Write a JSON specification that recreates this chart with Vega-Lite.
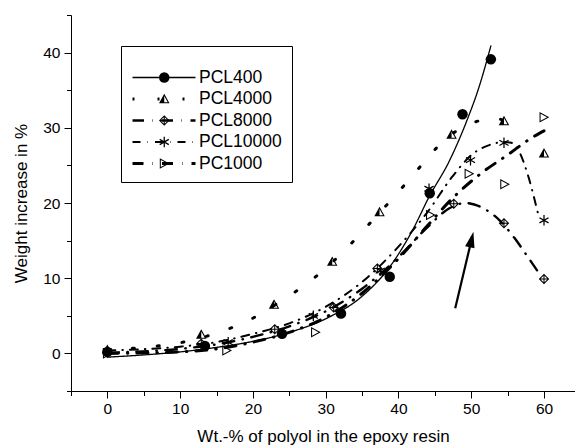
{
  "$schema": "https://vega.github.io/schema/vega-lite/v6.json",
  "width": 504,
  "height": 376,
  "autosize": {"type": "none"},
  "padding": {"left": 71, "top": 15, "right": 0, "bottom": 55},
  "background": "white",
  "config": {
    "font": "Liberation Sans",
    "view": {"stroke": null},
    "axis": {"grid": false, "domainColor": "black", "tickColor": "black", "labelColor": "black", "titleColor": "black", "titleFontWeight": "normal", "labelFontSize": 15.5, "titleFontSize": 17, "domainWidth": 1, "tickWidth": 1, "labelFont": "Liberation Sans", "titleFont": "Liberation Sans"},
    "legend": {"labelFont": "Liberation Sans", "titleFont": "Liberation Sans", "labelColor": "black"}
  },
  "datasets": {
    "points": [
      {"sample": "PCL400", "wt": 0, "gain": 0.2}, {"sample": "PCL400", "wt": 13.4, "gain": 1.0}, {"sample": "PCL400", "wt": 24, "gain": 2.6}, {"sample": "PCL400", "wt": 32.1, "gain": 5.3}, {"sample": "PCL400", "wt": 38.8, "gain": 10.2}, {"sample": "PCL400", "wt": 44.3, "gain": 21.3}, {"sample": "PCL400", "wt": 48.8, "gain": 31.8}, {"sample": "PCL400", "wt": 52.7, "gain": 39.1},
      {"sample": "PCL4000", "wt": 0, "gain": 0.5}, {"sample": "PCL4000", "wt": 12.9, "gain": 2.5}, {"sample": "PCL4000", "wt": 22.9, "gain": 6.5}, {"sample": "PCL4000", "wt": 30.9, "gain": 12.2}, {"sample": "PCL4000", "wt": 37.4, "gain": 18.8}, {"sample": "PCL4000", "wt": 47.3, "gain": 29.1}, {"sample": "PCL4000", "wt": 54.5, "gain": 30.9}, {"sample": "PCL4000", "wt": 60, "gain": 26.6},
      {"sample": "PCL8000", "wt": 0, "gain": 0.1}, {"sample": "PCL8000", "wt": 12.9, "gain": 1.3}, {"sample": "PCL8000", "wt": 23, "gain": 3.2}, {"sample": "PCL8000", "wt": 31.1, "gain": 6.1}, {"sample": "PCL8000", "wt": 37.1, "gain": 11.3}, {"sample": "PCL8000", "wt": 47.6, "gain": 19.9}, {"sample": "PCL8000", "wt": 54.5, "gain": 17.3}, {"sample": "PCL8000", "wt": 60, "gain": 9.9},
      {"sample": "PCL10000", "wt": 0, "gain": 0.3}, {"sample": "PCL10000", "wt": 16.6, "gain": 1.5}, {"sample": "PCL10000", "wt": 28.3, "gain": 5.0}, {"sample": "PCL10000", "wt": 37.5, "gain": 11.0}, {"sample": "PCL10000", "wt": 44.2, "gain": 21.9}, {"sample": "PCL10000", "wt": 49.9, "gain": 25.7}, {"sample": "PCL10000", "wt": 54.5, "gain": 28.0}, {"sample": "PCL10000", "wt": 60, "gain": 17.7},
      {"sample": "PC1000", "wt": 0, "gain": 0.0}, {"sample": "PC1000", "wt": 16.4, "gain": 0.4}, {"sample": "PC1000", "wt": 28.6, "gain": 2.8}, {"sample": "PC1000", "wt": 44.4, "gain": 18.4}, {"sample": "PC1000", "wt": 49.7, "gain": 23.9}, {"sample": "PC1000", "wt": 54.6, "gain": 22.5}, {"sample": "PC1000", "wt": 60, "gain": 31.4}
    ],
    "fits": [
      {"fit": "PCL400", "wt": 0, "gain": -0.5}, {"fit": "PCL400", "wt": 5, "gain": -0.2}, {"fit": "PCL400", "wt": 10, "gain": 0.2}, {"fit": "PCL400", "wt": 15, "gain": 0.8}, {"fit": "PCL400", "wt": 20, "gain": 1.6}, {"fit": "PCL400", "wt": 25, "gain": 2.8}, {"fit": "PCL400", "wt": 30, "gain": 4.6}, {"fit": "PCL400", "wt": 35, "gain": 7.6}, {"fit": "PCL400", "wt": 38.8, "gain": 11.5}, {"fit": "PCL400", "wt": 42, "gain": 16.5}, {"fit": "PCL400", "wt": 44.2, "gain": 20.8}, {"fit": "PCL400", "wt": 47, "gain": 25.6}, {"fit": "PCL400", "wt": 49.5, "gain": 31.2}, {"fit": "PCL400", "wt": 51, "gain": 35.2}, {"fit": "PCL400", "wt": 52.7, "gain": 40.9},
      {"fit": "PCL4000", "wt": 0, "gain": 0.5}, {"fit": "PCL4000", "wt": 5, "gain": 0.8}, {"fit": "PCL4000", "wt": 10.9, "gain": 1.6}, {"fit": "PCL4000", "wt": 16.2, "gain": 3.1}, {"fit": "PCL4000", "wt": 19, "gain": 4.2}, {"fit": "PCL4000", "wt": 24.4, "gain": 7.3}, {"fit": "PCL4000", "wt": 27.3, "gain": 9.2}, {"fit": "PCL4000", "wt": 32.7, "gain": 13.8}, {"fit": "PCL4000", "wt": 35.3, "gain": 16.5}, {"fit": "PCL4000", "wt": 40.2, "gain": 21.7}, {"fit": "PCL4000", "wt": 42.6, "gain": 24.4}, {"fit": "PCL4000", "wt": 45.2, "gain": 27.3}, {"fit": "PCL4000", "wt": 48, "gain": 29.6}, {"fit": "PCL4000", "wt": 50.6, "gain": 30.8}, {"fit": "PCL4000", "wt": 53.4, "gain": 31.2}, {"fit": "PCL4000", "wt": 56.3, "gain": 30.0},
      {"fit": "PCL8000", "wt": 0, "gain": 0.1}, {"fit": "PCL8000", "wt": 10, "gain": 0.6}, {"fit": "PCL8000", "wt": 15, "gain": 1.2}, {"fit": "PCL8000", "wt": 20, "gain": 2.2}, {"fit": "PCL8000", "wt": 25, "gain": 3.6}, {"fit": "PCL8000", "wt": 30, "gain": 5.6}, {"fit": "PCL8000", "wt": 35, "gain": 8.6}, {"fit": "PCL8000", "wt": 40, "gain": 12.8}, {"fit": "PCL8000", "wt": 44, "gain": 16.8}, {"fit": "PCL8000", "wt": 47, "gain": 19.3}, {"fit": "PCL8000", "wt": 49.2, "gain": 20.0}, {"fit": "PCL8000", "wt": 50.4, "gain": 19.8}, {"fit": "PCL8000", "wt": 52.2, "gain": 19.0}, {"fit": "PCL8000", "wt": 54, "gain": 17.6}, {"fit": "PCL8000", "wt": 55.9, "gain": 15.4}, {"fit": "PCL8000", "wt": 57.8, "gain": 12.8}, {"fit": "PCL8000", "wt": 59.5, "gain": 10.4},
      {"fit": "PCL10000", "wt": 0, "gain": 0.4}, {"fit": "PCL10000", "wt": 10, "gain": 0.9}, {"fit": "PCL10000", "wt": 15, "gain": 1.5}, {"fit": "PCL10000", "wt": 20, "gain": 2.6}, {"fit": "PCL10000", "wt": 25, "gain": 4.0}, {"fit": "PCL10000", "wt": 30, "gain": 6.2}, {"fit": "PCL10000", "wt": 35, "gain": 9.5}, {"fit": "PCL10000", "wt": 40, "gain": 14.2}, {"fit": "PCL10000", "wt": 44, "gain": 18.8}, {"fit": "PCL10000", "wt": 47.4, "gain": 23.5}, {"fit": "PCL10000", "wt": 50.3, "gain": 26.6}, {"fit": "PCL10000", "wt": 52.2, "gain": 27.6}, {"fit": "PCL10000", "wt": 54.5, "gain": 28.1}, {"fit": "PCL10000", "wt": 55.5, "gain": 28.0}, {"fit": "PCL10000", "wt": 56.5, "gain": 27.0}, {"fit": "PCL10000", "wt": 57.7, "gain": 24.0}, {"fit": "PCL10000", "wt": 59.2, "gain": 18.5},
      {"fit": "PC1000", "wt": 0, "gain": 0.0}, {"fit": "PC1000", "wt": 10, "gain": 0.2}, {"fit": "PC1000", "wt": 15, "gain": 0.6}, {"fit": "PC1000", "wt": 20, "gain": 1.5}, {"fit": "PC1000", "wt": 25, "gain": 2.8}, {"fit": "PC1000", "wt": 30, "gain": 4.8}, {"fit": "PC1000", "wt": 35, "gain": 8.0}, {"fit": "PC1000", "wt": 40, "gain": 12.6}, {"fit": "PC1000", "wt": 44, "gain": 17.0}, {"fit": "PC1000", "wt": 47.6, "gain": 20.8}, {"fit": "PC1000", "wt": 51.3, "gain": 23.9}, {"fit": "PC1000", "wt": 55, "gain": 26.4}, {"fit": "PC1000", "wt": 58.2, "gain": 28.6}, {"fit": "PC1000", "wt": 60, "gain": 29.6}
    ],
    "arrow": [
      {"wt": 47.8, "gain": 6.0, "wt2": 50.05, "gain2": 15.15}
    ]
  },
  "resolve": {"axis": {"x": "independent", "y": "independent"}},
  "layer": [
    {
      "data": {"values": []},
      "mark": {"type": "point", "opacity": 0},
      "encoding": {
        "x": {"field": "wt", "type": "quantitative", "scale": {"domain": [-5, 64.26], "nice": false, "zero": false}, "axis": {"orient": "bottom", "values": [-5, 5, 15, 25, 35, 45, 55], "tickSize": 4.5, "labels": false, "domain": false, "title": null}},
        "y": {"field": "gain", "type": "quantitative", "scale": {"domain": [-5, 45], "nice": false, "zero": false}, "axis": {"orient": "left", "values": [-5, 5, 15, 25, 35, 45], "tickSize": 4.5, "labels": false, "domain": false, "title": null}}
      }
    },
    {
      "data": {"name": "fits"},
      "mark": {"type": "line", "color": "black", "strokeCap": "round", "interpolate": "monotone"},
      "encoding": {
        "x": {"field": "wt", "type": "quantitative", "scale": {"domain": [-5, 64.26], "nice": false, "zero": false}, "axis": {"orient": "bottom", "values": [0, 10, 20, 30, 40, 50, 60], "tickSize": 7, "labelPadding": 3, "title": "Wt.-% of polyol in the epoxy resin", "titlePadding": 12}},
        "y": {"field": "gain", "type": "quantitative", "scale": {"domain": [-5, 45], "nice": false, "zero": false}, "axis": {"orient": "left", "values": [0, 10, 20, 30, 40], "tickSize": 7, "labelPadding": 4, "title": "Weight increase in %", "titlePadding": 12}},
        "strokeDash": {"field": "fit", "type": "nominal", "sort": null,
          "scale": {"range": [[1, 0], [2, 23], [11.5, 8.5, 0.5, 8.5], [8, 7, 0.5, 7], [11, 9, 0.5, 9]]},
          "legend": {"orient": "none", "legendX": 50, "legendY": 31, "direction": "vertical", "title": " ", "titleFontSize": 10, "titlePadding": 4, "symbolType": "stroke", "symbolSize": 3969, "clipHeight": 15, "symbolStrokeColor": "black", "padding": 10, "strokeColor": "black", "labelFontSize": 17.5, "labelOffset": 2, "rowPadding": 3.5, "symbolOffset": 0}},
        "strokeWidth": {"field": "fit", "type": "nominal", "sort": null,
          "scale": {"type": "ordinal", "range": [1.3, 3, 2.4, 2, 3]},
          "legend": {"orient": "none", "legendX": 50, "legendY": 31, "direction": "vertical", "title": " ", "titleFontSize": 10, "titlePadding": 4, "symbolType": "stroke", "symbolSize": 3969, "clipHeight": 15, "symbolStrokeColor": "black", "padding": 10, "strokeColor": "black", "labelFontSize": 17.5, "labelOffset": 2, "rowPadding": 3.5, "symbolOffset": 0}}
      }
    },
    {
      "data": {"name": "arrow"},
      "mark": {"type": "rule", "color": "black", "strokeWidth": 2.2},
      "encoding": {
        "x": {"field": "wt", "type": "quantitative", "scale": {"domain": [-5, 64.26], "nice": false, "zero": false}, "axis": null},
        "y": {"field": "gain", "type": "quantitative", "scale": {"domain": [-5, 45], "nice": false, "zero": false}, "axis": null},
        "x2": {"field": "wt2"},
        "y2": {"field": "gain2"}
      }
    },
    {
      "data": {"name": "arrow"},
      "mark": {"type": "point", "shape": "M0,-1L0.6,1L-0.6,1Z", "angle": 13, "size": 256, "filled": true, "color": "black", "opacity": 1},
      "encoding": {
        "x": {"field": "wt2", "type": "quantitative", "scale": {"domain": [-5, 64.26], "nice": false, "zero": false}, "axis": null},
        "y": {"field": "gain2", "type": "quantitative", "scale": {"domain": [-5, 45], "nice": false, "zero": false}, "axis": null}
      }
    },
    {
      "data": {"name": "points"},
      "mark": {"type": "point", "filled": true, "size": 110, "color": "black", "opacity": 1},
      "encoding": {
        "x": {"field": "wt", "type": "quantitative", "scale": {"domain": [-5, 64.26], "nice": false, "zero": false}, "axis": null},
        "y": {"field": "gain", "type": "quantitative", "scale": {"domain": [-5, 45], "nice": false, "zero": false}, "axis": null},
        "shape": {"field": "sample", "type": "nominal",
          "scale": {"domain": ["PCL400", "PCL4000", "PCL8000", "PCL10000", "PC1000"], "range": [
            "circle",
            "M0,-1L1,0.8L-1,0.8Z M0,-0.588L0,0.6L0.66,0.6Z",
            "M0,-1L1,0L0,1L-1,0Z M0.1,-0.1L0.617,-0.1L0.1,-0.617Z M0.1,0.1L0.1,0.617L0.617,0.1Z M-0.1,0.1L-0.617,0.1L-0.1,0.617Z M-0.1,-0.1L-0.1,-0.617L-0.617,-0.1Z",
            "M-0.12,-1L0.12,-1L0.12,1L-0.12,1Z M-0.81,-0.604L0.93,0.396L0.81,0.604L-0.93,-0.396Z M-0.93,0.396L0.81,-0.604L0.93,-0.396L-0.81,0.604Z",
            "M-0.85,-1L1,0L-0.85,1Z M-0.65,-0.665L-0.65,0.665L0.58,0Z"]},
          "legend": {"orient": "none", "legendX": 74.5, "legendY": 31, "direction": "vertical", "title": " ", "titleFontSize": 10, "titlePadding": 4, "padding": 10, "labelFontSize": 17.5, "labelExpr": "''", "rowPadding": 3.5, "clipHeight": 15, "symbolSize": 110, "symbolFillColor": "black", "symbolStrokeWidth": 0, "symbolOffset": 0}}
      }
    }
  ]
}
